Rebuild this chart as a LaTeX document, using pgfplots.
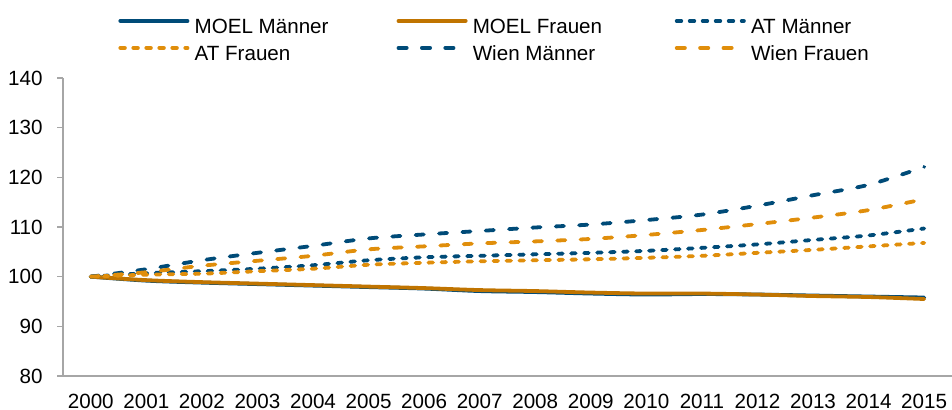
\documentclass[border=0pt]{standalone}
\usepackage{pgfplots}
\pgfplotsset{compat=1.18}
\usepackage{pgfplotstable}
\usepackage{fontspec}
\setmainfont{Liberation Sans}
\definecolor{dblue}{RGB}{0,75,120}
\definecolor{lorange}{RGB}{224,142,11}
\definecolor{dorange}{RGB}{192,116,0}
\definecolor{axgray}{RGB}{166,166,166}
\pgfplotstableread{
year MM MF ATM ATF WM WF
2000 100.0 100.0 100.0 100.0 100.0 100.0
2001 99.2 99.3 100.7 100.4 101.5 100.9
2002 98.8 98.9 101.1 100.6 103.3 102.2
2003 98.5 98.6 101.6 101.1 104.8 103.2
2004 98.2 98.3 102.3 101.6 106.2 104.2
2005 97.9 98.0 103.3 102.4 107.7 105.5
2006 97.6 97.7 103.9 102.8 108.5 106.1
2007 97.1 97.3 104.2 103.1 109.2 106.7
2008 96.9 97.1 104.5 103.3 109.9 107.1
2009 96.6 96.8 104.8 103.5 110.5 107.6
2010 96.4 96.6 105.2 103.8 111.4 108.4
2011 96.5 96.6 105.8 104.2 112.5 109.4
2012 96.4 96.4 106.5 104.8 114.3 110.6
2013 96.2 96.1 107.4 105.4 116.4 111.9
2014 96.0 95.9 108.3 106.1 118.5 113.4
2015 95.8 95.5 109.7 106.8 122.1 115.6
}\data
\newcommand{\lent}[1]{\makebox[103.6pt][l]{\hspace{2.6pt}#1}}
\begin{document}
\begin{tikzpicture}
\begin{axis}[
  name=ax,
  scale only axis,
  width=444.5pt, height=149pt,
  xmin=1999.5, xmax=2015.5,
  ymin=80, ymax=140,
  xtick={2000,...,2015},
  ytick={80,90,...,140},
  axis x line=bottom, axis y line=left,
  axis line style={draw=axgray, line width=0.7pt, -},
  tick align=outside,
  major tick length=3pt,
  xtick style={draw=none},
  ytick style={draw=axgray, line width=0.7pt},
  tick label style={font=\fontsize{10.3}{12}\selectfont, /pgf/number format/assume math mode=true},
  xticklabel style={/pgf/number format/1000 sep={}, inner sep=0pt, yshift=-6pt},
  yticklabel style={inner sep=0pt, xshift=-7pt},
  legend columns=3,
  legend cell align=left,
  legend style={draw=none, fill=none, inner sep=0pt,
    at={(axis description cs:0,1)}, anchor=north west,
    xshift=27.5pt, yshift=29.8pt,
    font=\fontsize{10.3}{12}\selectfont,
    nodes={inner sep=0pt, text height=7.5pt, text depth=2pt},
    row sep=4pt,
  },
  legend image code/.code={\draw[#1] (0pt,3.7pt) -- (33.6pt,3.7pt);},
  line join=round,
  every axis plot/.append style={line width=1.9pt, line cap=round},
]
\addplot[dblue, smooth] table[x=year,y=MM]{\data};
\addlegendentry{\lent{MOEL Männer}}
\addplot[dorange, smooth] table[x=year,y=MF]{\data};
\addlegendentry{\lent{MOEL Frauen}}
\addplot[dblue, smooth, dash pattern=on 2.3pt off 4.2pt] table[x=year,y=ATM]{\data};
\addlegendentry{\lent{AT Männer}}
\addplot[lorange, smooth, dash pattern=on 2.3pt off 4.2pt] table[x=year,y=ATF]{\data};
\addlegendentry{\lent{AT Frauen}}
\addplot[dblue, smooth, dash pattern=on 4.1pt off 7.6pt] table[x=year,y=WM]{\data};
\addlegendentry{\lent{Wien Männer}}
\addplot[lorange, smooth, dash pattern=on 4.1pt off 7.6pt] table[x=year,y=WF]{\data};
\addlegendentry{\lent{Wien Frauen}}
\end{axis}
\pgfresetboundingbox
\path[use as bounding box] ([xshift=-31.5pt,yshift=-17pt]ax.south west) rectangle ([yshift=39pt]ax.north east);
\end{tikzpicture}
\end{document}
